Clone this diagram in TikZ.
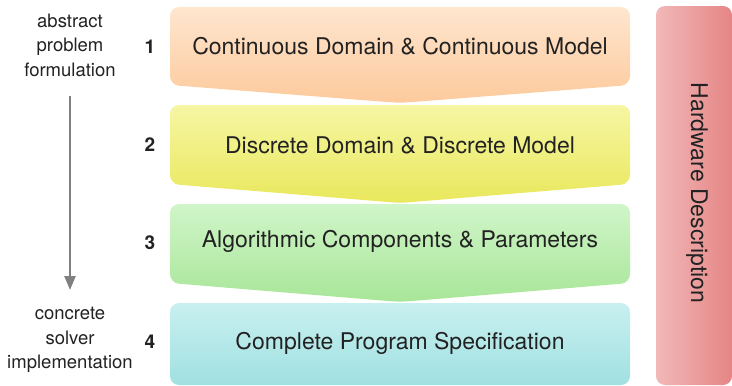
\documentclass[tikz,border=0pt]{standalone}
\usepackage{fontspec}
\setmainfont{TeX Gyre Heros}
\usetikzlibrary{arrows.meta}
\definecolor{txt}{HTML}{222222}
\definecolor{oA}{HTML}{FEE6CF}
\definecolor{oB}{HTML}{FDCA9C}
\definecolor{yA}{HTML}{F6F6A4}
\definecolor{yB}{HTML}{E9E85C}
\definecolor{gA}{HTML}{D0F5C9}
\definecolor{gB}{HTML}{A8E698}
\definecolor{cA}{HTML}{C9F0F0}
\definecolor{cB}{HTML}{A0E0E1}
\definecolor{rA}{HTML}{F2B8B8}
\definecolor{rB}{HTML}{E58585}
\definecolor{arr}{HTML}{808080}
\begin{document}
\begin{tikzpicture}[x=1pt,y=-1pt,
  boxtext/.style={text=txt,font=\fontsize{23}{26}\selectfont,inner sep=0pt},
  numtext/.style={text=txt,font=\fontsize{19}{22}\selectfont\bfseries,inner sep=0pt},
  sidetext/.style={text=txt,font=\fontsize{18.5}{24.5}\selectfont,align=center,inner sep=0pt},
  stage/.style={rounded corners=9pt}]
\useasboundingbox (0,0) rectangle (732,386);
% stage shapes
\shade[stage,top color=oA,bottom color=oB] (170,7) -- (630,7) -- (630,85) -- (400,103) -- (170,85) -- cycle;
\shade[stage,top color=yA,bottom color=yB] (170,105) -- (630,105) -- (630,184) -- (400,203) -- (170,184) -- cycle;
\shade[stage,top color=gA,bottom color=gB] (170,204) -- (630,204) -- (630,283) -- (400,302) -- (170,283) -- cycle;
\shade[stage,top color=cA,bottom color=cB] (170,303) rectangle (630,385);
% hardware bar
\shade[rounded corners=9pt,left color=rA,right color=rB] (656,6) rectangle (732,385);
% texts
\node[boxtext] (t1) at (400,46) {Continuous Domain \& Continuous Model};
\node[boxtext] (t2) at (400,145) {Discrete Domain \& Discrete Model};
\node[boxtext] (t3) at (400,241) {Algorithmic Components \& Parameters};
\node[boxtext] (t4) at (400,343) {Complete Program Specification};
\node[numtext] (n1) at (150,47) {1};
\node[numtext] (n2) at (150,145) {2};
\node[numtext] (n3) at (150,243) {3};
\node[numtext] (n4) at (150,342) {4};
\node[boxtext,rotate=-90] (hw) at (697,193) {Hardware Description};
\node[sidetext] (abs) at (70,45) {abstract\\problem\\formulation};
\node[sidetext] (conc) at (70,340) {concrete\\solver\\implementation};
\coordinate (as) at (abs.south |- 0,96);
\coordinate (ae) at (conc.north |- 0,290);
\draw[arr,line width=2.5pt,-{Triangle[length=14pt,width=11pt]}] (as) -- (ae);
\end{tikzpicture}
\end{document}
